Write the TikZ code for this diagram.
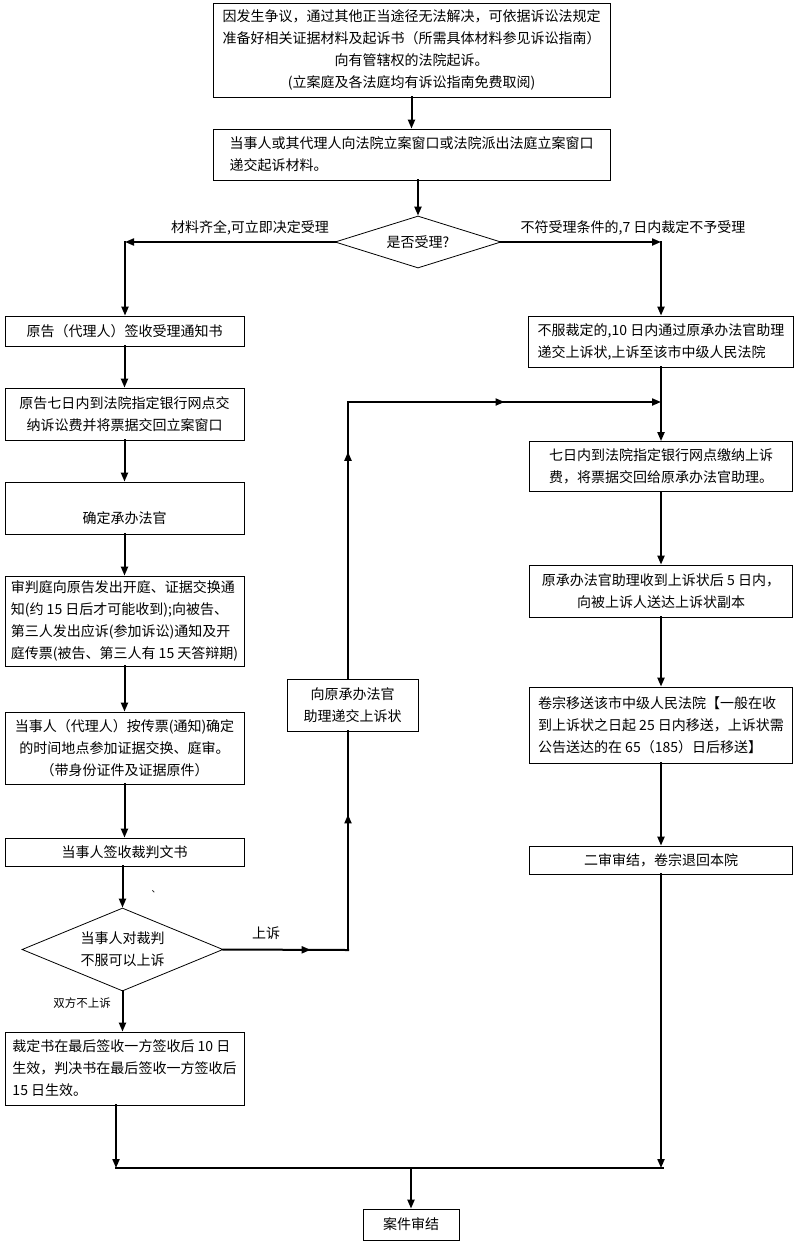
\documentclass[tikz,border=0pt]{standalone}
\usepackage{fontspec}
\setmainfont{Noto Sans CJK SC}
\usetikzlibrary{arrows.meta, shapes.geometric, decorations.markings}
\tikzset{box/.style={draw, line width=0.8pt, inner sep=0pt, align=center},
         choice/.style={draw, diamond, aspect=2, line width=0.8pt, inner sep=0pt, align=center},
         line/.style={line width=2pt, line cap=rect},
         tip/.tip={Triangle[length=9pt, width=7pt]},
         flow/.style={line, -tip},
         midflow/.style={line, postaction={decorate},
           decoration={markings, mark=at position #1 with {\arrow{tip}}}},
         tag/.style={inner sep=0pt}
}

\begin{document}
\begin{tikzpicture}[x=1pt, y=-1pt, font=\fontsize{14}{22}\selectfont]
        \useasboundingbox (0,0) rectangle (796,1244);
        % top of the chart
        \node [box, minimum width=397, minimum height=94] (start) at (411.5,50) {因发生争议，通过其他正当途径无法解决，可依据诉讼法规定\\准备好相关证据材料及起诉书（所需具体材料参见诉讼指南）\\向有管辖权的法院起诉。\\(立案庭及各法庭均有诉讼指南免费取阅)};
        \node [box, align=left, minimum width=397, minimum height=51] (file) at (411.5,154.5) {当事人或其代理人向法院立案窗口或法院派出法庭立案窗口\\递交起诉材料。};
        \node [choice, minimum width=166, minimum height=52] (accept) at (418,242) {是否受理?};
        \node [tag] (yes) at (250,228) {材料齐全,可立即决定受理};
        \node [tag] (no) at (633,228) {不符受理条件的,7 日内裁定不予受理};
        % first instance
        \node [box, minimum width=239, minimum height=30] (notice) at (124.5,331) {原告（代理人）签收受理通知书};
        \node [box, minimum width=239, minimum height=52] (fee) at (124.5,414) {原告七日内到法院指定银行网点交\\纳诉讼费并将票据交回立案窗口};
        \node [box, minimum width=239, minimum height=52, text height=34pt, text depth=4pt] (judge) at (124.5,508) {确定承办法官};
        \node [box, align=left, minimum width=239, minimum height=90] (summon) at (124.5,621) {审判庭向原告发出开庭、证据交换通\\知(约 15 日后才可能收到);向被告、\\第三人发出应诉(参加诉讼)通知及开\\庭传票(被告、第三人有 15 天答辩期)};
        \node [box, minimum width=239, minimum height=72] (hearing) at (124.5,748) {当事人（代理人）按传票(通知)确定\\的时间地点参加证据交换、庭审。\\（带身份证件及证据原件）};
        \node [box, minimum width=239, minimum height=28] (verdict) at (124.5,852) {当事人签收裁判文书};
        \node [tag, font=\fontsize{9}{9}\selectfont] (tick) at (156,892) {、};
        \node [choice, minimum width=201, minimum height=83] (appeal) at (122.5,949.5) {当事人对裁判\\不服可以上诉};
        \node [tag] (up) at (266,933) {上诉};
        \node [tag, font=\fontsize{11.5}{14}\selectfont] (both) at (82,1003) {双方不上诉};
        \node [box, align=left, minimum width=239, minimum height=73] (effect) at (124.5,1068.5) {裁定书在最后签收一方签收后 10 日\\生效，判决书在最后签收一方签收后\\15 日生效。};
        \node [box, minimum width=131, minimum height=52] (submit) at (352.5,705) {向原承办法官\\助理递交上诉状};
        % second instance
        \node [box, align=left, minimum width=265, minimum height=51] (object) at (661,341.5) {不服裁定的,10 日内通过原承办法官助理\\递交上诉状,上诉至该市中级人民法院};
        \node [box, align=left, minimum width=263, minimum height=50] (pay) at (661,466.5) {七日内到法院指定银行网点缴纳上诉\\费，将票据交回给原承办法官助理。};
        \node [box, minimum width=263, minimum height=52] (serve) at (661,591) {原承办法官助理收到上诉状后 5 日内，\\向被上诉人送达上诉状副本};
        \node [box, align=left, minimum width=263, minimum height=76] (transfer) at (661,725) {卷宗移送该市中级人民法院【一般在收\\到上诉状之日起 25 日内移送，上诉状需\\公告送达的在 65（185）日后移送】};
        \node [box, minimum width=263, minimum height=28] (retrial) at (661,860) {二审审结，卷宗退回本院};
        \node [box, minimum width=96, minimum height=31] (close) at (411,1224.5) {案件审结};
        % bends
        \coordinate (accL) at (125,242);
        \coordinate (accR) at (661,242);
        \coordinate (upA) at (348,950);
        \coordinate (upB) at (348,402);
        \coordinate (join) at (661,402);
        \coordinate (botL) at (116,1168);
        \coordinate (botR) at (663,1168);
        \coordinate (botM) at (411,1168);
        % connectors
        \draw [flow] (start) -- (file);
        \draw [flow] (file.south -| accept.north) -- (accept.north);
        \draw [flow] (accept.west) -- (accL);
        \draw [flow] (accL) -- (notice.north -| accL);
        \draw [flow] (accept.east) -- (accR);
        \draw [flow] (accR) -- (object.north);
        \draw [flow] (notice) -- (fee);
        \draw [flow] (fee) -- (judge);
        \draw [flow] (judge) -- (summon);
        \draw [flow] (summon) -- (hearing);
        \draw [flow] (hearing) -- (verdict);
        \draw [flow] (verdict.south -| appeal.north) -- (appeal.north);
        \draw [flow] (appeal.south) -- (effect.north -| appeal.south);
        \draw [midflow=0.7] (appeal.east) -- (upA);
        \draw [midflow=0.62] (upA) -- (upA |- submit.south);
        \draw [midflow=0.82] (upA |- submit.north) -- (upB);
        \draw [midflow=0.5, -tip] (upB) -- (join);
        \draw [line] (object) -- (join);
        \draw [flow] (join) -- (pay);
        \draw [flow] (pay) -- (serve);
        \draw [flow] (serve) -- (transfer);
        \draw [flow] (transfer) -- (retrial);
        \draw [flow] (retrial) -- (retrial.south |- botL);
        \draw [flow] (effect.south -| botL) -- (botL);
        \draw [line] (botL) -- (botR);
        \draw [flow] (botM) -- (close);
\end{tikzpicture}
\end{document}
